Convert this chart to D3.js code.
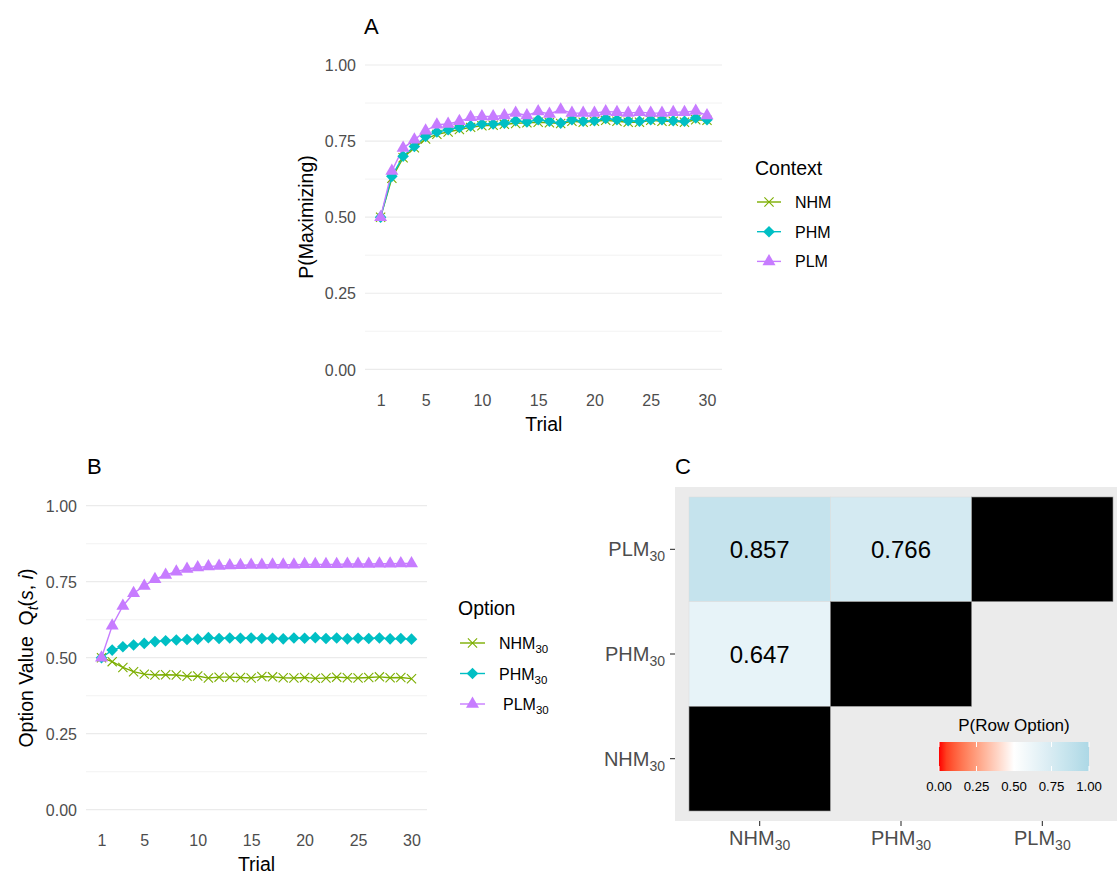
<!DOCTYPE html>
<html><head><meta charset="utf-8">
<script src="https://cdn.jsdelivr.net/npm/d3@7"></script>
<style>body{margin:0;background:#fff}svg{display:block;font-family:"Liberation Sans",Arial,sans-serif}</style>
</head><body>
<script>
// ---------- DATA ----------
const trials = [1,2,3,4,5,6,7,8,9,10,11,12,13,14,15,16,17,18,19,20,21,22,23,24,25,26,27,28,29,30];
const trialTicks = [1,5,10,15,20,25,30];
const probTicks = [0,0.25,0.5,0.75,1];
const minorTicks = [0.125,0.375,0.625,0.875];

// Panel A: P(Maximizing) by context
const contextNames = ["NHM","PHM","PLM"];
const nhmA = [0.50,0.628,0.695,0.728,0.757,0.772,0.780,0.788,0.795,0.800,0.802,0.805,0.808,0.810,0.812,0.810,0.808,0.815,0.812,0.815,0.818,0.815,0.812,0.812,0.818,0.815,0.815,0.812,0.820,0.818];
const phmA = [0.50,0.634,0.700,0.732,0.765,0.780,0.787,0.795,0.800,0.806,0.806,0.809,0.817,0.813,0.820,0.815,0.809,0.820,0.815,0.817,0.824,0.820,0.817,0.815,0.820,0.820,0.817,0.815,0.826,0.820];
const plmA = [0.50,0.652,0.727,0.754,0.784,0.804,0.806,0.815,0.828,0.831,0.831,0.834,0.842,0.834,0.847,0.839,0.853,0.842,0.842,0.842,0.847,0.845,0.842,0.845,0.842,0.842,0.845,0.845,0.849,0.834];

// Panel B: option values
const optionNames = ["NHM","PHM","PLM"];
const nhmB = [0.50,0.487,0.468,0.454,0.446,0.443,0.444,0.443,0.439,0.440,0.433,0.436,0.436,0.435,0.433,0.438,0.437,0.434,0.433,0.435,0.432,0.433,0.436,0.434,0.433,0.435,0.437,0.434,0.435,0.431];
const phmB = [0.50,0.525,0.536,0.542,0.547,0.553,0.556,0.558,0.560,0.561,0.566,0.563,0.565,0.564,0.565,0.563,0.564,0.562,0.565,0.564,0.566,0.563,0.565,0.562,0.564,0.563,0.565,0.562,0.563,0.561];
const plmB = [0.50,0.605,0.670,0.712,0.736,0.758,0.772,0.783,0.792,0.797,0.800,0.802,0.803,0.804,0.805,0.805,0.806,0.806,0.806,0.807,0.807,0.807,0.807,0.808,0.808,0.808,0.809,0.809,0.810,0.810];

// Panel C: pairwise choice heatmap
const heatCols = ["NHM","PHM","PLM"];
const heatRows = ["PLM","PHM","NHM"]; // top to bottom
const heatRowOpt = ["PLM","PLM","PHM"];
const heatColOpt = ["NHM","PHM","NHM"];
const heatVals  = [0.857,0.766,0.647];
const diagOpts = ["NHM","PHM","PLM"];
const legendTicks = [0,0.25,0.5,0.75,1];

const colors = {NHM:"#7CAE00", PHM:"#00BFC4", PLM:"#C77CFF"};

// ---------- DRAW ----------
const W=1117,H=875;
const svg = d3.select("body").append("svg").attr("width",W).attr("height",H);
svg.append("rect").attr("width",W).attr("height",H).attr("fill","#fff");

function markerPath(kind){
  if(kind==="NHM"){const r=4.6;return `M${-r},${-r}L${r},${r}M${-r},${r}L${r},${-r}`;}
  if(kind==="PHM"){const r=5.8;return `M0,${-r}L${r},0L0,${r}L${-r},0Z`;}
  const s=13,h=s*Math.sqrt(3)/2;return `M0,${-h*2/3}L${s/2},${h/3}L${-s/2},${h/3}Z`;
}
function drawMarker(g,kind,x,y){
  const p=g.append("path").attr("d",markerPath(kind)).attr("transform",`translate(${x},${y})`);
  if(kind==="NHM") p.attr("fill","none").attr("stroke",colors[kind]).attr("stroke-width",1.1);
  else p.attr("fill",colors[kind]);
}

function linePanel(cfg){
  const g=svg.append("g");
  const x=d3.scaleLinear().domain([1,30]).range(cfg.xr);
  const y=d3.scaleLinear().domain([0,1]).range(cfg.yr);
  g.selectAll(".mn").data(minorTicks).join("line").attr("x1",cfg.gx[0]).attr("x2",cfg.gx[1])
    .attr("y1",d=>y(d)).attr("y2",d=>y(d)).attr("stroke","#EBEBEB").attr("stroke-width",0.6);
  g.selectAll(".mj").data(probTicks).join("line").attr("x1",cfg.gx[0]).attr("x2",cfg.gx[1])
    .attr("y1",d=>y(d)).attr("y2",d=>y(d)).attr("stroke","#EBEBEB").attr("stroke-width",1.2);
  const ya=g.append("g").attr("transform",`translate(${cfg.gx[0]},0)`)
    .call(d3.axisLeft(y).tickValues(probTicks).tickFormat(d3.format(".2f")).tickSize(0).tickPadding(9));
  ya.select(".domain").remove();
  ya.selectAll("text").attr("fill","#4D4D4D").attr("font-size",16).attr("font-family","Liberation Sans, Arial, sans-serif").attr("dy","0.36em");
  const xa=g.append("g").attr("transform",`translate(0,${cfg.yr[0]})`)
    .call(d3.axisBottom(x).tickValues(trialTicks).tickSize(0).tickPadding(25));
  xa.select(".domain").remove();
  xa.selectAll("text").attr("fill","#4D4D4D").attr("font-size",16).attr("font-family","Liberation Sans, Arial, sans-serif");
  const line=d3.line().x((d,i)=>x(trials[i])).y(d=>y(d));
  cfg.series.forEach(s=>{
    g.append("path").attr("d",line(s.v)).attr("fill","none").attr("stroke",colors[s.k]).attr("stroke-width",1.4);
  });
  cfg.series.forEach(s=>{
    s.v.forEach((v,i)=>drawMarker(g,s.k,x(trials[i]),y(v)));
  });
  g.append("text").attr("x",(cfg.xr[0]+cfg.xr[1])/2).attr("y",cfg.yr[0]+61.5).attr("text-anchor","middle")
    .attr("font-size",19.5).text("Trial");
  return {g,x,y};
}

// Panel A
const A=linePanel({xr:[380.6,707],yr:[369.3,65],gx:[365,722],
  series:[{k:"NHM",v:nhmA},{k:"PHM",v:phmA},{k:"PLM",v:plmA}]});
svg.append("text").attr("transform","translate(313,217) rotate(-90)").attr("text-anchor","middle")
  .attr("font-size",19.5).text("P(Maximizing)");
svg.append("text").attr("x",364).attr("y",34).attr("font-size",22).text("A");
svg.append("text").attr("x",755).attr("y",175).attr("font-size",19.5).text("Context");
contextNames.forEach((k,i)=>{
  const yy=202+i*29.7;
  svg.append("line").attr("x1",757).attr("x2",781).attr("y1",yy).attr("y2",yy).attr("stroke",colors[k]).attr("stroke-width",1.4);
  drawMarker(svg,k,769,yy);
  svg.append("text").attr("x",795).attr("y",yy+6).attr("font-size",16).text(k);
});

// Panel B
const B=linePanel({xr:[101.5,411.5],yr:[809.7,505.7],gx:[86,427],
  series:[{k:"NHM",v:nhmB},{k:"PHM",v:phmB},{k:"PLM",v:plmB}]});
const yt=svg.append("text").attr("transform","translate(33,658) rotate(-90)").attr("text-anchor","middle").attr("font-size",19.5);
yt.append("tspan").text("Option Value\u00A0\u00A0Q");
yt.append("tspan").attr("font-style","italic").attr("font-size",14).attr("dy",5).text("t");
yt.append("tspan").attr("dy",-5).text("(");
yt.append("tspan").attr("font-style","italic").text("s");
yt.append("tspan").text(",\u00A0");
yt.append("tspan").attr("font-style","italic").text("i");
yt.append("tspan").text(")");
svg.append("text").attr("x",87).attr("y",474).attr("font-size",22).text("B");
svg.append("text").attr("x",458).attr("y",615).attr("font-size",19.5).text("Option");
optionNames.forEach((k,i)=>{
  const yy=643+i*30.5;
  svg.append("line").attr("x1",460).attr("x2",485).attr("y1",yy).attr("y2",yy).attr("stroke",colors[k]).attr("stroke-width",1.4);
  drawMarker(svg,k,472.5,yy);
  const t=svg.append("text").attr("x",k==="PLM"?503:499).attr("y",yy+6).attr("font-size",16);
  t.append("tspan").text(k);
  t.append("tspan").attr("font-size",11.5).attr("dy",4).text("30");
});

// Panel C
svg.append("text").attr("x",675).attr("y",474).attr("font-size",22).text("C");
const gC=svg.append("g");
gC.append("rect").attr("x",675).attr("y",487).attr("width",W-675).attr("height",334).attr("fill","#EBEBEB");
const cx=d3.scaleBand().domain(heatCols).range([689,1113]);
const cy=d3.scaleBand().domain(heatRows).range([497,811]);
const col=d3.scaleLinear().domain([0,0.5,1]).range(["red","white","lightblue"]).interpolate(d3.interpolateLab);
heatVals.forEach((v,i)=>{
  gC.append("rect").attr("x",cx(heatColOpt[i])).attr("y",cy(heatRowOpt[i])).attr("width",cx.bandwidth()).attr("height",cy.bandwidth())
    .attr("fill",col(v)).attr("stroke","#dcdcdc").attr("stroke-width",0.5);
  gC.append("text").attr("x",cx(heatColOpt[i])+cx.bandwidth()/2).attr("y",cy(heatRowOpt[i])+cy.bandwidth()/2)
    .attr("dy","0.36em").attr("text-anchor","middle").attr("font-size",24).attr("fill","#000").text(v.toFixed(3));
});
diagOpts.forEach(k=>{
  gC.append("rect").attr("x",cx(k)).attr("y",cy(k)).attr("width",cx.bandwidth()).attr("height",cy.bandwidth())
    .attr("fill","#000").attr("stroke","#9a9a9a").attr("stroke-width",0.6);
});
heatCols.forEach(k=>{
  const xx=cx(k)+cx.bandwidth()/2;
  gC.append("line").attr("x1",xx).attr("x2",xx).attr("y1",821).attr("y2",826).attr("stroke","#333").attr("stroke-width",1.1);
  const t=gC.append("text").attr("x",xx).attr("y",845).attr("text-anchor","middle").attr("font-size",20).attr("fill","#4D4D4D");
  t.append("tspan").text(k);
  t.append("tspan").attr("font-size",14).attr("dy",5).text("30");
});
heatRows.forEach(k=>{
  const yy=cy(k)+cy.bandwidth()/2;
  gC.append("line").attr("x1",670).attr("x2",675).attr("y1",yy).attr("y2",yy).attr("stroke","#333").attr("stroke-width",1.1);
  const t=gC.append("text").attr("x",665).attr("y",yy+7).attr("text-anchor","end").attr("font-size",20).attr("fill","#4D4D4D");
  t.append("tspan").text(k);
  t.append("tspan").attr("font-size",14).attr("dy",5).text("30");
});
const lx=d3.scaleLinear().domain([0,1]).range([939,1089]);
const defs=svg.append("defs");
const grad=defs.append("linearGradient").attr("id","cg");
d3.range(0,1.0001,0.05).forEach(t=>grad.append("stop").attr("offset",t).attr("stop-color",col(t)));
gC.append("text").attr("x",1014).attr("y",731).attr("text-anchor","middle").attr("font-size",17).text("P(Row Option)");
gC.append("rect").attr("x",lx(0)).attr("y",742).attr("width",lx(1)-lx(0)).attr("height",29).attr("fill","url(#cg)");
legendTicks.forEach(t=>{
  gC.append("line").attr("x1",lx(t)).attr("x2",lx(t)).attr("y1",742).attr("y2",747).attr("stroke","#fff").attr("stroke-width",1);
  gC.append("line").attr("x1",lx(t)).attr("x2",lx(t)).attr("y1",766).attr("y2",771).attr("stroke","#fff").attr("stroke-width",1);
  gC.append("text").attr("x",lx(t)).attr("y",791).attr("text-anchor","middle").attr("font-size",13.2).text(d3.format(".2f")(t));
});
</script>
</body></html>
